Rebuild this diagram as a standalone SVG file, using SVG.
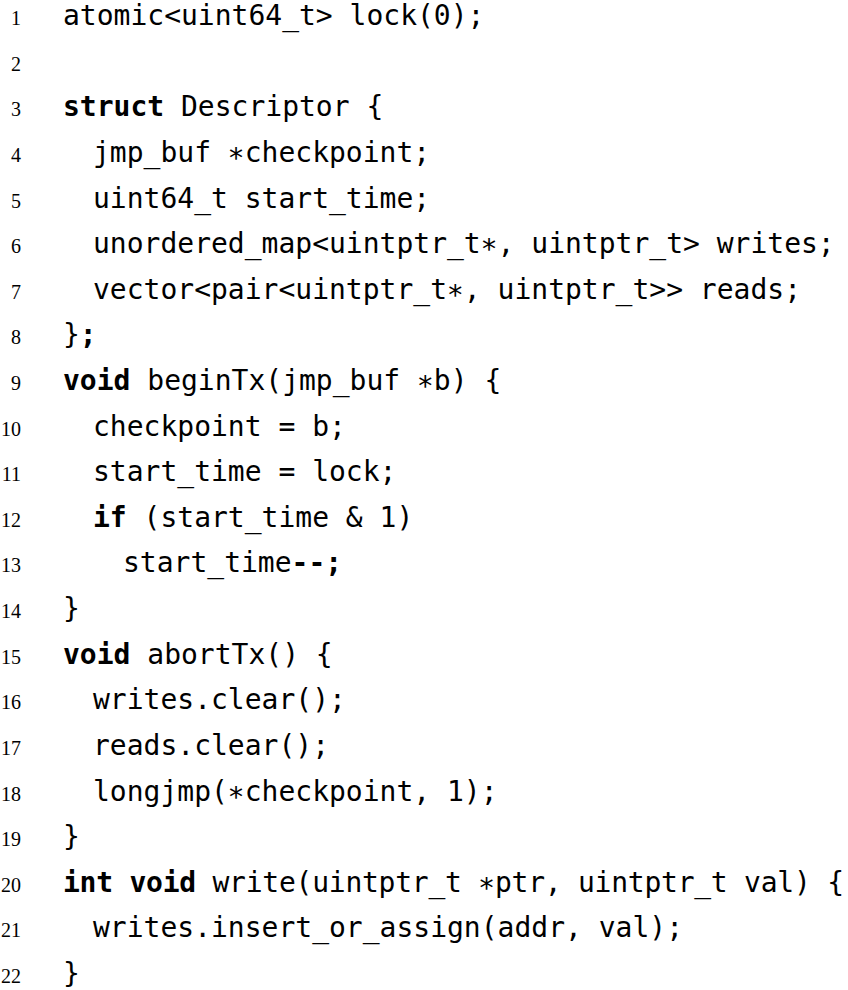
<svg xmlns="http://www.w3.org/2000/svg" width="848" height="990" viewBox="0 0 848 990">
<style>
.c{font-family:"DejaVu Sans Mono",monospace;font-size:28px;fill:#000;white-space:pre}
.k{font-weight:bold}
.n{font-family:"Liberation Serif","Times New Roman",serif;font-size:20px;fill:#000;text-anchor:end}
</style>
<rect width="848" height="990" fill="#fff"/>
<g id="line-numbers">
<text class="n" x="21" y="25">1</text>
<text class="n" x="21" y="70.6">2</text>
<text class="n" x="21" y="116.2">3</text>
<text class="n" x="21" y="161.9">4</text>
<text class="n" x="21" y="207.5">5</text>
<text class="n" x="21" y="253.1">6</text>
<text class="n" x="21" y="298.7">7</text>
<text class="n" x="21" y="344.3">8</text>
<text class="n" x="21" y="390">9</text>
<text class="n" x="21" y="435.6">10</text>
<text class="n" x="21" y="481.2">11</text>
<text class="n" x="21" y="526.8">12</text>
<text class="n" x="21" y="572.4">13</text>
<text class="n" x="21" y="618.1">14</text>
<text class="n" x="21" y="663.7">15</text>
<text class="n" x="21" y="709.3">16</text>
<text class="n" x="21" y="754.9">17</text>
<text class="n" x="21" y="800.5">18</text>
<text class="n" x="21" y="846.2">19</text>
<text class="n" x="21" y="891.8">20</text>
<text class="n" x="21" y="937.4">21</text>
<text class="n" x="21" y="983">22</text>
</g>
<g id="code">
<text class="c" x="63" y="25">atomic&lt;uint64_t&gt; lock(0);</text>
<text class="c" x="63" y="116.2"><tspan class="k">struct</tspan> Descriptor {</text>
<text class="c" x="93" y="161.9">jmp_buf ∗checkpoint;</text>
<text class="c" x="93" y="207.5">uint64_t start_time;</text>
<text class="c" x="93" y="253.1">unordered_map&lt;uintptr_t∗, uintptr_t&gt; writes;</text>
<text class="c" x="93" y="298.7">vector&lt;pair&lt;uintptr_t∗, uintptr_t&gt;&gt; reads;</text>
<text class="c" x="63" y="344.3">}<tspan class="k">;</tspan></text>
<text class="c" x="63" y="390"><tspan class="k">void</tspan> beginTx(jmp_buf ∗b) {</text>
<text class="c" x="93" y="435.6">checkpoint = b;</text>
<text class="c" x="93" y="481.2">start_time = lock;</text>
<text class="c" x="93" y="526.8"><tspan class="k">if</tspan> (start_time &amp; 1)</text>
<text class="c" x="123" y="572.4">start_time<tspan class="k">--;</tspan></text>
<text class="c" x="63" y="618.1">}</text>
<text class="c" x="63" y="663.7"><tspan class="k">void</tspan> abortTx() {</text>
<text class="c" x="93" y="709.3">writes.clear();</text>
<text class="c" x="93" y="754.9">reads.clear();</text>
<text class="c" x="93" y="800.5">longjmp(∗checkpoint, 1);</text>
<text class="c" x="63" y="846.2">}</text>
<text class="c" x="63" y="891.8" textLength="781" lengthAdjust="spacing"><tspan class="k">int</tspan> <tspan class="k">void</tspan> write(uintptr_t ∗ptr, uintptr_t val) {</text>
<text class="c" x="93" y="937.4">writes.insert_or_assign(addr, val);</text>
<text class="c" x="63" y="983">}</text>
</g>
</svg>
